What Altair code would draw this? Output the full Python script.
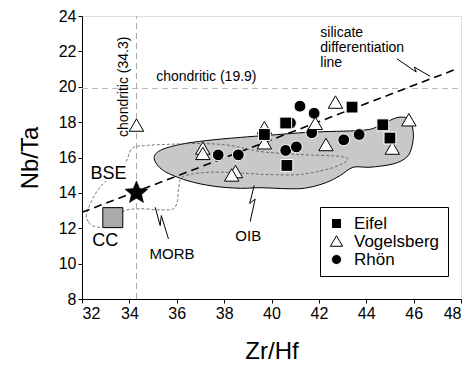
import altair as alt
import pandas as pd

FONT = "Liberation Sans"

# ---- data ----
eifel_x = [43.4, 40.6, 39.7, 40.65, 44.7, 45.0]
eifel_y = [18.85, 17.95, 17.3, 15.55, 17.85, 17.1]

vog_x = [34.3, 37.1, 37.1, 38.48, 38.32, 39.7, 39.7, 42.7, 41.85, 42.3, 45.8, 45.1]
vog_y = [17.8, 16.5, 16.2, 15.17, 14.98, 17.65, 16.8, 19.1, 17.9, 16.7, 18.1, 16.5]

rhon_x = [37.75, 38.6, 41.2, 41.8, 41.7, 40.8, 40.6, 41.05, 43.05, 43.7]
rhon_y = [16.15, 16.15, 18.9, 18.5, 17.4, 17.95, 16.4, 16.6, 17.0, 17.3]

groups = ["Eifel", "Vogelsberg", "Rhön"]

bse = (34.3, 14.0)
cc = (33.3, 12.6)

sil_x = [32.0, 47.8]
sil_y = [12.9, 21.0]

chond_nbta = 19.9
chond_zrhf = 34.3

oib_x = [35.05, 35.30, 36.15, 37.27, 38.54, 39.81, 41.63, 43.74, 44.45, 45.15, 45.57, 45.85,
         45.99, 45.92, 45.71, 45.15, 44.16, 43.45, 42.90, 42.34, 41.63, 40.93, 39.52, 38.68,
         37.55, 36.43, 35.44]
oib_y = [15.93, 16.40, 16.74, 16.96, 17.12, 17.25, 17.43, 17.53, 17.72, 18.19, 18.28, 18.10,
         17.34, 16.58, 16.02, 15.64, 15.45, 15.45, 14.98, 14.60, 14.32, 14.23, 14.29, 14.26,
         14.38, 14.70, 15.26]

morb_x = [32.21, 32.28, 32.56, 32.98, 33.76, 34.46, 35.30, 35.86, 36.03, 36.08, 36.29, 37.41,
          38.81, 39.81, 41.21, 42.48, 43.19, 42.90, 41.21, 39.52, 38.26, 36.99, 35.59, 34.74,
          34.11, 33.76, 32.74]
morb_y = [12.89, 12.34, 12.09, 12.15, 12.96, 13.10, 13.04, 13.10, 13.57, 14.25, 14.93, 15.17,
          15.11, 15.04, 15.04, 15.38, 15.83, 16.06, 16.17, 16.34, 16.68, 16.79, 16.74, 16.68,
          16.51, 15.55, 14.29]

bolt_morb_x = [35.09, 35.30, 35.35, 35.65]
bolt_morb_y = [13.19, 12.15, 12.72, 11.40]
bolt_oib_x = [39.27, 39.08, 39.31, 39.10]
bolt_oib_y = [14.42, 13.40, 13.65, 12.38]
bolt_sil_x = [45.29, 46.11, 46.03, 46.70]
bolt_sil_y = [21.59, 20.83, 21.11, 20.59]

STAR = ("M0,-1L0.2645,-0.3641L0.9511,-0.309L0.428,0.1391L0.5878,0.809L0,0.45"
        "L-0.5878,0.809L-0.428,0.1391L-0.9511,-0.309L-0.2645,-0.3641Z")
TRI = "M0,-1.15L-1.22,0.95L1.22,0.95Z"

# ---- tables ----
pts = pd.DataFrame(
    [{"x": a, "y": b, "g": "Rhön"} for a, b in zip(rhon_x, rhon_y)]
    + [{"x": a, "y": b, "g": "Vogelsberg"} for a, b in zip(vog_x, vog_y)]
    + [{"x": a, "y": b, "g": "Eifel"} for a, b in zip(eifel_x, eifel_y)]
)

oib = pd.DataFrame({"x": oib_x, "y": oib_y, "o": range(len(oib_x))})
morb = pd.DataFrame({"x": morb_x, "y": morb_y, "o": range(len(morb_x))})
bolts = pd.DataFrame(
    [{"x": a, "y": b, "id": "m", "o": i} for i, (a, b) in enumerate(zip(bolt_morb_x, bolt_morb_y))]
    + [{"x": a, "y": b, "id": "o", "o": i} for i, (a, b) in enumerate(zip(bolt_oib_x, bolt_oib_y))]
    + [{"x": a, "y": b, "id": "s", "o": i} for i, (a, b) in enumerate(zip(bolt_sil_x, bolt_sil_y))]
)
sil = pd.DataFrame({"x": sil_x, "y": sil_y})
hline = pd.DataFrame({"x": [32, 48], "y": [chond_nbta, chond_nbta]})
vline = pd.DataFrame({"x": [chond_zrhf, chond_zrhf], "y": [8, 24]})

xs = alt.Scale(domain=[32, 48], nice=False, zero=False)
ys = alt.Scale(domain=[8, 24], nice=False, zero=False)

X = alt.X("x:Q", scale=xs, title="Zr/Hf",
          axis=alt.Axis(values=list(range(32, 49, 2)), grid=False, tickSize=4,
                        labelFontSize=16, titleFontSize=24, titlePadding=18,
                        labelFont=FONT, titleFont=FONT, titleFontWeight="normal",
                        domainColor="black", tickColor="black", labelColor="black",
                        titleColor="black"))
Y = alt.Y("y:Q", scale=ys, title="Nb/Ta",
          axis=alt.Axis(values=list(range(8, 25, 2)), grid=False, tickSize=4,
                        labelFontSize=16, titleFontSize=24, titlePadding=16,
                        labelFont=FONT, titleFont=FONT, titleFontWeight="normal",
                        domainColor="black", tickColor="black", labelColor="black",
                        titleColor="black"))

oib_layer = alt.Chart(oib).mark_line(
    interpolate="cardinal-closed", fill="#c8c8c8", stroke="black", strokeWidth=1
).encode(x=X, y=Y, order="o:Q")

morb_layer = alt.Chart(morb).mark_line(
    interpolate="cardinal-closed", stroke="#555555", strokeWidth=0.8, strokeDash=[3, 2]
).encode(x=X, y=Y, order="o:Q")

h_layer = alt.Chart(hline).mark_line(stroke="#bbbbbb", strokeWidth=1.2, strokeDash=[6, 4]).encode(x=X, y=Y)
v_layer = alt.Chart(vline).mark_line(stroke="#aaaaaa", strokeWidth=1, strokeDash=[6, 4]).encode(x=X, y=Y)

sil_layer = alt.Chart(sil).mark_line(stroke="black", strokeWidth=1.6, strokeDash=[8, 5]).encode(x=X, y=Y)

bolt_layer = alt.Chart(bolts).mark_line(stroke="black", strokeWidth=1).encode(
    x=X, y=Y, detail="id:N", order="o:Q")

cc_layer = alt.Chart(pd.DataFrame({"x": [cc[0]], "y": [cc[1]]})).mark_point(
    shape="square", size=400, filled=True, fill="#aaaaaa", stroke="black", strokeWidth=1, opacity=1
).encode(x=X, y=Y)

star_layer = alt.Chart(pd.DataFrame({"x": [bse[0]], "y": [bse[1]]})).mark_point(
    shape=STAR, size=580, filled=True, fill="black", stroke="black", strokeWidth=0.5, opacity=1
).encode(x=X, y=Y)

LEG = alt.Legend(title=None, orient="none", legendX=238, legendY=191,
                 strokeColor="black", fillColor="white", padding=8,
                 labelFontSize=17, labelFont=FONT, labelColor="black",
                 symbolSize=100, symbolStrokeColor="black", symbolStrokeWidth=1,
                 rowPadding=0, labelOffset=9, cornerRadius=0)

pt_layer = alt.Chart(pts).mark_point(filled=True, opacity=1, strokeWidth=1, size=140).encode(
    x=X, y=Y,
    shape=alt.Shape("g:N", scale=alt.Scale(domain=groups, range=["square", TRI, "circle"]),
                    legend=LEG),
    fill=alt.Fill("g:N", scale=alt.Scale(domain=groups, range=["black", "white", "black"]),
                  legend=LEG),
    stroke=alt.Stroke("g:N", scale=alt.Scale(domain=groups, range=["white", "black", "white"]),
                      legend=LEG),
)

texts = [
    ("chondritic (19.9)", 35.13, 20.3, 14, "left", "alphabetic", 0),
    ("chondritic (34.3)", 33.93, 20.0, 14, "center", "alphabetic", 270),
    ("BSE", 33.12, 15.08, 18, "center", "middle", 0),
    ("CC", 32.98, 11.3, 18, "center", "middle", 0),
    ("MORB", 35.8, 10.55, 15, "center", "middle", 0),
    ("OIB", 39.02, 11.58, 15, "center", "middle", 0),
]
text_layers = []
for t, x, y, fs, al, bl, ang in texts:
    df = pd.DataFrame({"x": [x], "y": [y], "t": [t]})
    if t == "BSE":
        text_layers.append(
            alt.Chart(df).mark_text(fontSize=fs, font=FONT, align=al, baseline=bl, angle=ang,
                                    color="white", stroke="white", strokeWidth=5)
            .encode(x=X, y=Y, text="t:N")
        )
    text_layers.append(
        alt.Chart(df).mark_text(fontSize=fs, font=FONT, align=al, baseline=bl, angle=ang, color="black")
        .encode(x=X, y=Y, text="t:N")
    )

sil_text = alt.Chart(pd.DataFrame({"x": [42.06], "y": [23.42], "t": ["silicate\ndifferentiation\nline"]})).mark_text(
    fontSize=14, font=FONT, align="left", baseline="top", lineBreak="\n", lineHeight=15, color="black"
).encode(x=X, y=Y, text="t:N")

chart = alt.layer(
    oib_layer, morb_layer, h_layer, v_layer, sil_layer, bolt_layer, cc_layer, star_layer,
    pt_layer, *text_layers, sil_text
).properties(
    width=379, height=283,
    autosize=alt.AutoSizeParams(type="none"),
    padding={"left": 74, "top": 8, "right": 2, "bottom": 72},
).configure_view(stroke="black", strokeWidth=1).configure(background="white")

chart.save("out.html", embed_options={"renderer": "svg", "actions": False})
